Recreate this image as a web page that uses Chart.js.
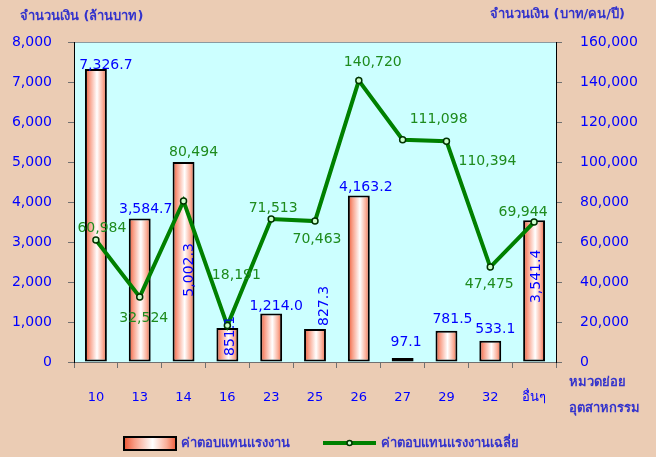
<!DOCTYPE html>
<html>
<head>
<meta charset="utf-8">
<script src="https://cdn.jsdelivr.net/npm/chart.js@4.4.1/dist/chart.umd.min.js"></script>
<style>
  html, body { margin: 0; padding: 0; background: #EBCCB4; }
  #wrap { width: 656px; height: 457px; }
</style>
</head>
<body>
<div id="wrap"><canvas id="myChart" width="656" height="457"></canvas></div>
<script>
// data
var categories = ['10', '13', '14', '16', '23', '25', '26', '27', '29', '32', 'อื่นๆ'];
var wages = [7326.7, 3584.7, 5002.3, 851.1, 1214.0, 827.3, 4163.2, 97.1, 781.5, 533.1, 3541.4];
var avgWages = [60984, 32524, 80494, 18191, 71513, 70463, 140720, 111098, 110394, 47475, 69944];
var leftTicks = [0, 1000, 2000, 3000, 4000, 5000, 6000, 7000, 8000];
var rightTicks = [0, 20000, 40000, 60000, 80000, 100000, 120000, 140000, 160000];

// where the value labels sit relative to their mark
var barLabelDx = [10, 6, 5.5, 3, 5, 9, 7, 3.5, 6, 5, 2];
var barLabelDy = [-4, -9, 108, 8, -7, -23, -8, -16, -11, -11, 56];
var barLabelRot = [false, false, true, true, false, true, false, false, false, false, true];
var lineLabelDx = [6, 4, 10, 9, 2, 2, 14, 36, 41, -1, -11];
var lineLabelDy = [-12, 21, -49, -50, -11, 18, -18, -20, 20, 17, -10];

var FONT = "Tahoma, 'DejaVu Sans', sans-serif";
var BLUE = '#0000FF';
var TITLE = '#3333CC';
var GREEN = '#1E8B1E';

function fmt0(v) { return v.toLocaleString('en-US'); }
function fmt1(v) { return v.toLocaleString('en-US', {minimumFractionDigits: 1, maximumFractionDigits: 1}); }

function barGradient(ctx, x0, x1) {
  var g = ctx.createLinearGradient(x0, 0, x1, 0);
  g.addColorStop(0, '#EC5634');
  g.addColorStop(0.2, '#F89C84');
  g.addColorStop(0.55, '#FFFFFF');
  g.addColorStop(0.82, '#FAAE98');
  g.addColorStop(1, '#EE5E3C');
  return g;
}

var extras = {
  id: 'extras',
  beforeDraw: function(chart) {
    var c = chart.ctx, a = chart.chartArea;
    c.save();
    c.fillStyle = '#CCFFFF';
    c.fillRect(a.left, a.top, a.right - a.left, a.bottom - a.top);
    c.strokeStyle = '#8A9AA0';
    c.lineWidth = 1;
    c.beginPath();
    c.moveTo(a.left, a.top + 0.5);
    c.lineTo(a.right, a.top + 0.5);
    c.stroke();
    c.restore();
  },
  afterDatasetsDraw: function(chart) {
    var c = chart.ctx;
    c.save();
    c.font = '14px ' + FONT;
    c.textAlign = 'center';
    c.textBaseline = 'middle';
    var bars = chart.getDatasetMeta(0).data;
    c.fillStyle = BLUE;
    bars.forEach(function(b, i) {
      var x = b.x + barLabelDx[i], y = b.y + barLabelDy[i];
      if (barLabelRot[i]) {
        c.save();
        c.translate(x, y);
        c.rotate(-Math.PI / 2);
        c.fillText(fmt1(wages[i]), 0, 0);
        c.restore();
      } else {
        c.fillText(fmt1(wages[i]), x, y);
      }
    });
    var pts = chart.getDatasetMeta(1).data;
    c.fillStyle = GREEN;
    pts.forEach(function(p, i) {
      c.fillText(fmt0(avgWages[i]), p.x + lineLabelDx[i], p.y + lineLabelDy[i]);
    });
    c.restore();
  },
  afterDraw: function(chart) {
    var c = chart.ctx;
    c.save();
    c.font = 'bold 13px ' + FONT;
    c.fillStyle = TITLE;
    c.textBaseline = 'middle';
    c.textAlign = 'left';
    c.fillText('จำนวนเงิน (ล้านบาท)', 20, 17);
    c.textAlign = 'right';
    c.fillText('จำนวนเงิน (บาท/คน/ปี)', 625, 15);
    c.textAlign = 'left';
    c.fillText('หมวดย่อย', 569, 383);
    c.fillText('อุตสาหกรรม', 569, 409);

    // legend
    c.fillStyle = barGradient(c, 124, 176);
    c.fillRect(124, 437, 52, 13);
    c.strokeStyle = '#000';
    c.lineWidth = 2;
    c.strokeRect(124, 437, 52, 13);
    c.fillStyle = TITLE;
    c.fillText('ค่าตอบแทนแรงงาน', 181, 444);
    c.strokeStyle = '#008000';
    c.lineWidth = 4;
    c.beginPath();
    c.moveTo(323, 443);
    c.lineTo(376, 443);
    c.stroke();
    c.beginPath();
    c.arc(349.5, 443, 2.5, 0, Math.PI * 2);
    c.fillStyle = '#CCFFCC';
    c.fill();
    c.lineWidth = 1.5;
    c.strokeStyle = '#003300';
    c.stroke();
    c.fillStyle = TITLE;
    c.fillText('ค่าตอบแทนแรงงานเฉลี่ย', 381, 444);
    c.restore();
  }
};

var ctx = document.getElementById('myChart').getContext('2d');
var chart = new Chart(ctx, {
  type: 'bar',
  data: {
    labels: categories,
    datasets: [{
      label: 'ค่าตอบแทนแรงงาน',
      data: wages,
      yAxisID: 'y',
      order: 1,
      backgroundColor: function(context) {
        var ch = context.chart;
        if (!ch.chartArea || !ch.scales.x) return '#FBB8A2';
        var x = ch.scales.x.getPixelForValue(context.dataIndex);
        var half = ch.scales.x.width / categories.length * 0.25;
        return barGradient(ch.ctx, x - half, x + half);
      },
      borderColor: '#000000',
      borderWidth: 2,
      borderSkipped: false,
      categoryPercentage: 1.0,
      barPercentage: 0.5
    }, {
      type: 'line',
      label: 'ค่าตอบแทนแรงงานเฉลี่ย',
      data: avgWages,
      yAxisID: 'y1',
      order: 0,
      borderColor: '#008000',
      borderWidth: 4,
      tension: 0,
      pointRadius: 3,
      pointBackgroundColor: '#CCFFCC',
      pointBorderColor: '#003300',
      pointBorderWidth: 1.5
    }]
  },
  options: {
    responsive: false,
    animation: false,
    layout: { padding: { top: 42, left: 0, right: 0, bottom: 0 } },
    plugins: {
      legend: { display: false },
      tooltip: { enabled: false }
    },
    scales: {
      x: {
        offset: true,
        grid: { offset: true, drawOnChartArea: false, tickLength: 6, tickColor: '#707070' },
        border: { color: '#707070' },
        ticks: { color: BLUE, font: { family: FONT, size: 13 }, padding: 22, maxRotation: 0 },
        afterFit: function(s) { s.height = 95; }
      },
      y: {
        position: 'left',
        min: 0,
        max: 8000,
        afterBuildTicks: function(s) { s.ticks = leftTicks.map(function(v) { return {value: v}; }); },
        grid: { drawOnChartArea: false, tickLength: 6, tickColor: '#707070' },
        border: { color: '#000000' },
        ticks: { color: BLUE, font: { family: FONT, size: 14 }, padding: 16, callback: function(v) { return fmt0(v); } },
        afterFit: function(s) { s.width = 74; }
      },
      y1: {
        position: 'right',
        min: 0,
        max: 160000,
        afterBuildTicks: function(s) { s.ticks = rightTicks.map(function(v) { return {value: v}; }); },
        grid: { drawOnChartArea: false, tickLength: 6, tickColor: '#707070' },
        border: { color: '#000000' },
        ticks: { color: BLUE, font: { family: FONT, size: 14 }, padding: 18, callback: function(v) { return fmt0(v); } },
        afterFit: function(s) { s.width = 100; }
      }
    }
  },
  plugins: [extras]
});
</script>
</body>
</html>
